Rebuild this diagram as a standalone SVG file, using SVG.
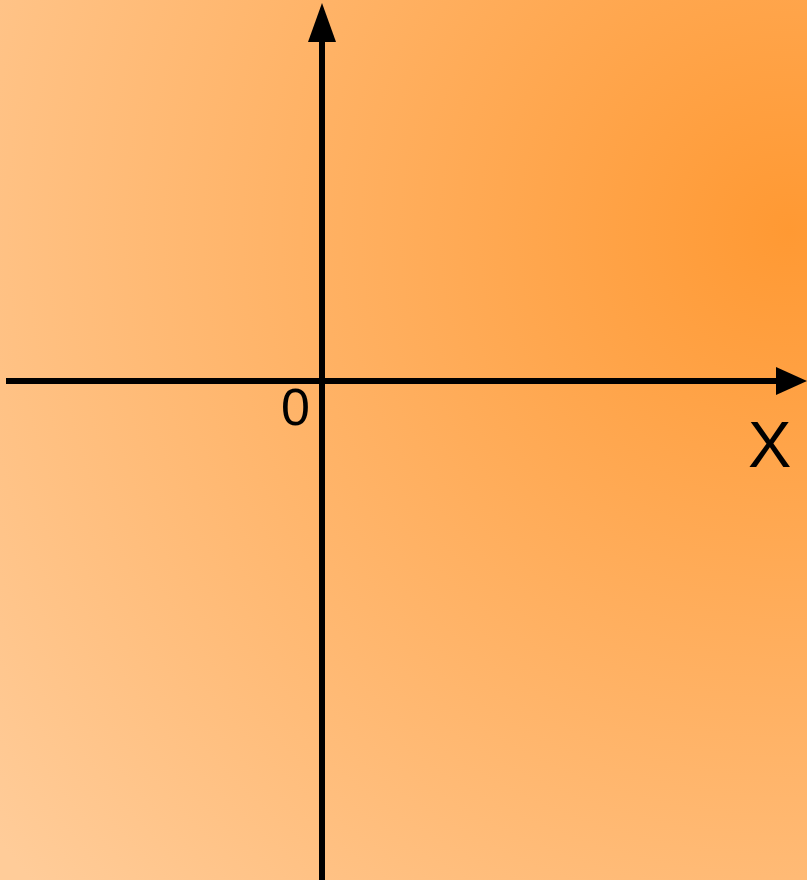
<svg xmlns="http://www.w3.org/2000/svg" width="807" height="880" viewBox="0 0 807 880">
<defs>
<radialGradient id="bg" gradientUnits="userSpaceOnUse" cx="790" cy="230" r="1000">
<stop offset="0" stop-color="#ff9933"/>
<stop offset="1" stop-color="#ffcc99"/>
</radialGradient>
<style>
.axis{stroke:#000;stroke-width:6;fill:none}
.head{fill:#000}
.lbl{font-family:"Liberation Sans",Arial,sans-serif;fill:#000}
</style>
</defs>
<rect x="0" y="0" width="807" height="880" fill="url(#bg)"/>
<g id="connectors">
<line class="axis" x1="6" y1="381" x2="780" y2="381"/>
<polygon class="head" points="776,367 807,381 776,395"/>
<line class="axis" x1="322" y1="880" x2="322" y2="38"/>
<polygon class="head" points="308,42 322,3 336,42"/>
</g>
<g id="origin"><text class="lbl" x="281" y="425" font-size="52">0</text></g>
<g id="xlabel"><text class="lbl" x="748" y="467" font-size="65">X</text></g>
</svg>
